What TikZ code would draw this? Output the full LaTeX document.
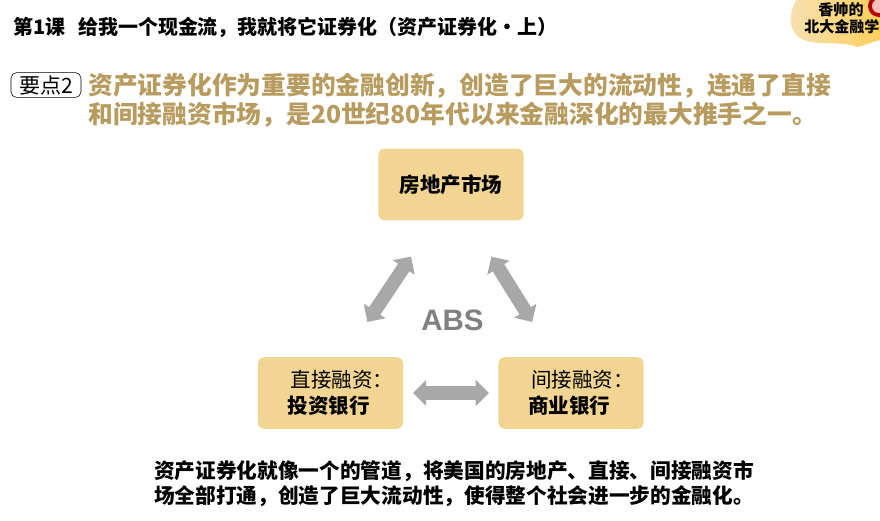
\documentclass[tikz,border=0pt]{standalone}
\usepackage{fontspec}
\setmainfont{Noto Sans CJK SC}
\newfontfamily\absfont{Liberation Sans}
\usetikzlibrary{arrows.meta}
\definecolor{boxgold}{HTML}{F2D592}
\definecolor{textgold}{HTML}{B89B5E}
\definecolor{arrowgray}{HTML}{A8A8A8}
\definecolor{brushgold}{HTML}{FFCF5C}
\tikzset{
	marketbox/.style={fill=boxgold,rounded corners=0.16cm,minimum width=3.63cm,minimum height=1.79cm,inner sep=0pt,font=\fontsize{14.6pt}{19pt}\selectfont,align=left},
	flowarrow/.style={{Triangle[width=0.64cm,length=0.33cm]}-{Triangle[width=0.64cm,length=0.33cm]},line width=0.34cm,draw=arrowgray},
	keytext/.style={anchor=west,text=textgold,font=\fontsize{17.6pt}{20pt}\selectfont\bfseries,inner sep=0pt},
	notetext/.style={anchor=west,font=\fontsize{14.7pt}{18pt}\selectfont\bfseries,inner sep=0pt},
	sealtext/.style={font=\fontsize{10.7pt}{13pt}\selectfont\bfseries,inner sep=0pt}
}
\begin{document}
\begin{tikzpicture}[x=0.025cm,y=-0.025cm]
		\useasboundingbox (0,0) rectangle (880,520);
		
		% Logo
		\begin{scope}
		\clip (0,0) rectangle (880,520);
		\path[left color=boxgold!70!white,right color=brushgold] (796,0) .. controls (790,12) and (786,28) .. (800,38) .. controls (815,47) and (840,40) .. (858,47) .. controls (868,44) and (875,41) .. (880,40) -- (880,0) -- cycle;
		\node[sealtext] (sealtop) at (841,10) {香帅的};
		\node[sealtext,anchor=west] (sealbottom) at (804,27) {北大金融学};
		\fill[red!70!black] (879,6) circle (11);
		\fill[red!25!white] (879,6) circle (7);
		\end{scope}
		
		% Title
		\node[anchor=west,inner sep=0pt,font=\fontsize{14.2pt}{16pt}\selectfont\bfseries] (title) at (13,27) {第1课\hspace{0.32cm}给我一个现金流，我就将它证券化（资产证券化•上）};
		
		% Key point
		\node[draw=black,fill=white,rounded corners=0.14cm,minimum width=1.75cm,minimum height=0.62cm,inner sep=0pt,font=\fontsize{15pt}{17pt}\selectfont] (keypoint) at (46,85) {要点2};
		\node[keytext] (keyone) at (88,86) {资产证券化作为重要的金融创新，创造了巨大的流动性，连通了直接};
		\node[keytext] (keytwo) at (88,115) {和间接融资市场，是20世纪80年代以来金融深化的最大推手之一。};
		
		% Boxes
		\node[marketbox] (market) at (451,184.5) {\bfseries 房地产市场};
		\node[marketbox] (direct) at (330.5,393) {\hspace*{0.58cm}直接融资：\\\hspace*{0.5cm}\bfseries 投资银行};
		\node[marketbox] (indirect) at (571,393) {\hspace*{0.58cm}间接融资：\\\hspace*{0.5cm}\bfseries 商业银行};
		
		% Arrows
		\draw[flowarrow,shorten <=1.08cm,shorten >=1.05cm] ([xshift=-0.4cm]market.south) -- ([xshift=0.34cm]direct.north);
		\draw[flowarrow,shorten <=1.06cm,shorten >=1.03cm] ([xshift=0.45cm]market.south) -- ([xshift=-0.425cm]indirect.north);
		\draw[flowarrow,shorten <=0.24cm,shorten >=0.23cm] (direct) -- (indirect);
		
		% Nodes
		\node[text=black!50,font=\absfont\fontsize{21pt}{24pt}\selectfont\bfseries] (abs) at (452.5,320) {ABS};
		\node[notetext] (noteone) at (154,471) {资产证券化就像一个的管道，将美国的房地产、直接、间接融资市};
		\node[notetext] (notetwo) at (154,496) {场全部打通，创造了巨大流动性，使得整个社会进一步的金融化。};
\end{tikzpicture}
\end{document}
